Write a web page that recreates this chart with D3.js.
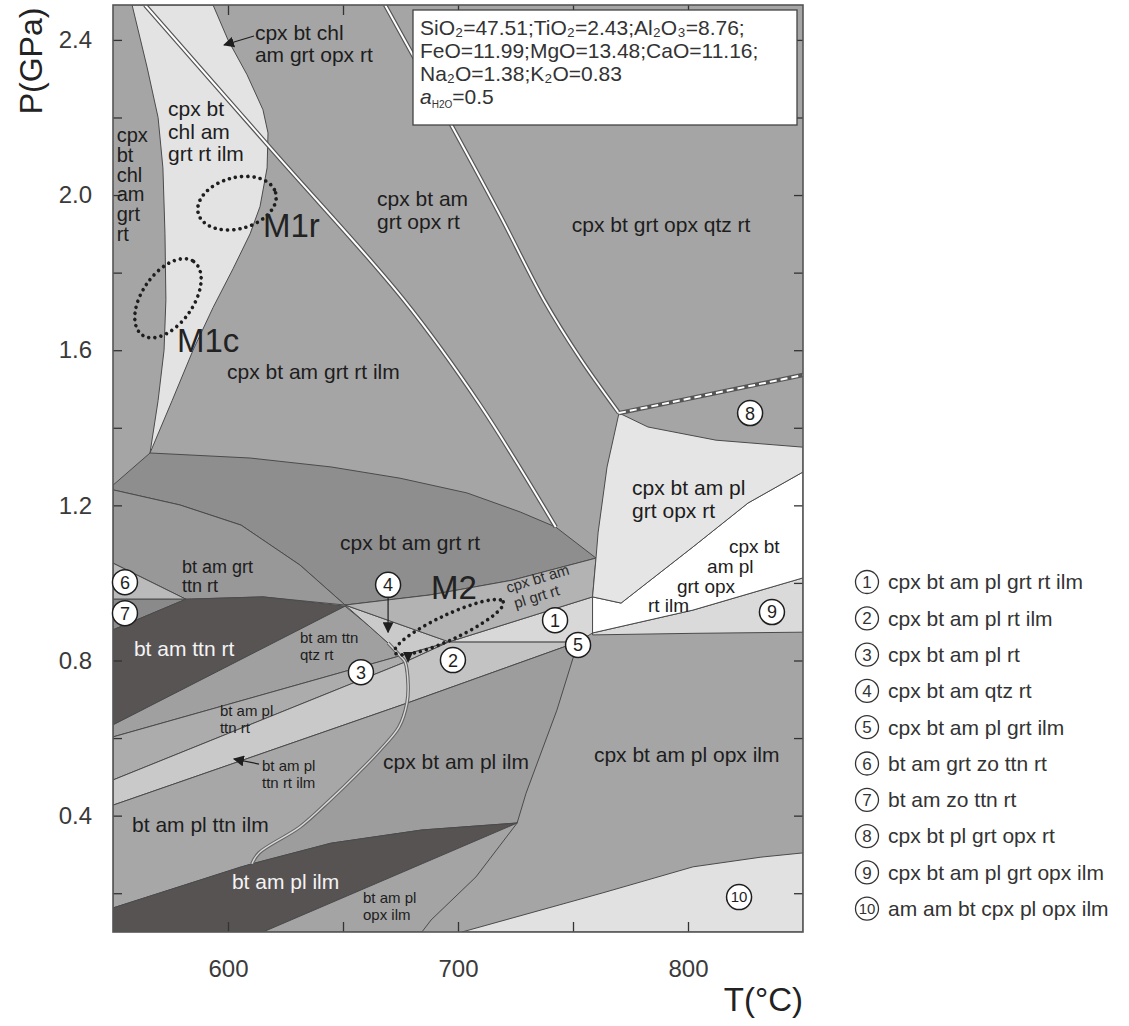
<!DOCTYPE html>
<html>
<head>
<meta charset="utf-8">
<script src="https://cdnjs.cloudflare.com/ajax/libs/d3/7.8.5/d3.min.js"></script>
<style>
  body { margin: 0; background: #fff; }
  svg { display: block; font-family: "Liberation Sans", Arial, sans-serif; }
</style>
</head>
<body>
<svg id="chart" width="1129" height="1026"></svg>
<script>
// ---- P–T pseudosection: T in °C, P in GPa ----

// axis ticks
const tTicks = [600, 650, 700, 750, 800];
const tTickLabels = [600, 700, 800];
const pTicks = [0.2, 0.4, 0.6, 0.8, 1.0, 1.2, 1.4, 1.6, 1.8, 2.0, 2.2, 2.4];
const pTickLabels = [0.4, 0.8, 1.2, 1.6, 2.0, 2.4];

// stability fields as [T, P] outlines
const fChlIlm = [[558.3,2.49],[564.8,2.33],[569.6,2.20],[571.7,2.07],[572.6,1.90],[573.0,1.73],[572.2,1.60],[569.6,1.47],[566.1,1.335],[575.7,1.47],[584.8,1.60],[593.5,1.71],[602.2,1.81],[609.6,1.90],[613.9,1.97],[617.0,2.07],[617.4,2.16],[615.2,2.22],[608.3,2.31],[600.0,2.40],[593.5,2.49]];
const fGrtRt = [[550,1.252],[566.1,1.335],[609.6,1.322],[644.8,1.299],[674.8,1.270],[703.9,1.232],[727.0,1.183],[742.5,1.144],[760.0,1.064],[723.5,1.007],[687.8,0.969],[650.9,0.943],[631.3,1.046],[605.7,1.149],[579.1,1.201],[550,1.240]];
const fGrtTtn = [[550,1.240],[579.1,1.201],[605.7,1.149],[631.3,1.046],[650.9,0.943],[615.2,0.964],[581.7,0.958],[550,1.051]];
const fZo6 = [[550,1.051],[581.7,0.958],[550,0.958]];
const fZo7 = [[550,0.958],[581.7,0.958],[550,0.879]];
const fTtnRt = [[550,0.879],[581.7,0.958],[615.2,0.964],[650.9,0.940],[550,0.634]];
const fTtnQtz = [[550,0.634],[650.9,0.940],[660.9,0.891],[669.6,0.845],[674.8,0.812],[550,0.603]];
const fPlTtnRt = [[550,0.603],[674.8,0.812],[677.0,0.796],[550,0.492]];
const fPlTtnRtIlm = [[550,0.492],[677.0,0.796],[678.3,0.737],[677.8,0.690],[550,0.427]];
const fPlTtnIlm = [[550,0.427],[677.8,0.690],[674.3,0.628],[666.1,0.569],[656.5,0.510],[644.3,0.440],[631.3,0.371],[613.5,0.304],[610.4,0.276],[550,0.162]];
const f3 = [[674.8,0.812],[696.1,0.848],[677.0,0.796]];
const f4 = [[650.9,0.943],[696.1,0.848],[674.8,0.812],[669.6,0.845],[660.9,0.891]];
const f2 = [[677.0,0.796],[696.1,0.848],[752.2,0.848],[677.8,0.690],[678.3,0.737]];
const f1 = [[696.1,0.848],[758.5,0.964],[758.5,0.871],[752.2,0.848]];
const fPlGrtRt = [[650.9,0.943],[687.8,0.969],[723.5,1.007],[760.0,1.064],[758.5,0.964],[696.1,0.848]];
const fCpxPlIlm = [[677.8,0.690],[752.2,0.848],[743.0,0.672],[729.6,0.458],[725.7,0.381],[684.3,0.363],[644.8,0.329],[610.4,0.276],[613.5,0.304],[631.3,0.371],[644.3,0.440],[656.5,0.510],[666.1,0.569],[674.3,0.628]];
const fPlIlm = [[550,0.162],[605.7,0.268],[644.8,0.329],[684.3,0.363],[725.7,0.381],[615.2,0.1],[550,0.1]];
const fPlOpxIlm = [[615.2,0.1],[725.7,0.381],[707.8,0.242],[688.3,0.131],[684.3,0.1]];
const f10 = [[701.7,0.1],[763.0,0.201],[802.2,0.268],[831.7,0.293],[850,0.304],[850,0.1]];
const f9 = [[758.5,0.871],[802.2,0.930],[850,1.013],[850,0.873],[802.2,0.870],[758.5,0.866]];
const fOpxRtIlm = [[758.5,0.964],[770.9,0.948],[802.2,1.093],[826.1,1.206],[850,1.286],[850,1.013],[802.2,0.930],[758.5,0.871]];
const fPlGrtOpxRt = [[770.0,1.438],[782.6,1.402],[812.2,1.368],[850,1.350],[850,1.286],[826.1,1.206],[802.2,1.093],[770.9,0.948],[758.5,0.964],[760.0,1.064],[760.9,1.129],[764.8,1.299]];

// reaction lines drawn as open double lines
const rxChlOut = [[563.9,2.49],[620.4,2.108],[676.5,1.729],[709.6,1.459],[742.5,1.144]];
const rxAmOut = [[668.3,2.49],[697.8,2.173],[718.3,1.948],[737.4,1.729],[753.0,1.580],[770.0,1.438]];
const rxQtz = [[770.0,1.438],[850,1.536]];
const rxTtn = [[669.6,0.845],[674.8,0.812],[677.0,0.796],[678.3,0.737],[677.8,0.690],[674.3,0.628],[666.1,0.569],[656.5,0.510],[644.3,0.440],[631.3,0.371],[613.5,0.304],[610.4,0.276]];

// field assemblages written inside the diagram: [lines, T, P]
const fieldLabels = [
  [["cpx bt chl","am grt opx rt"], 611.7, 2.42],
  [["cpx bt","chl am","grt rt ilm"], 573.9, 2.222],
  [["cpx bt am","grt opx rt"], 664.8, 1.99],
  [["cpx bt grt opx qtz rt"], 749.5, 1.923],
  [["cpx bt am grt rt ilm"], 599.6, 1.544],
  [["cpx bt am grt rt"], 648.7, 1.105],
  [["cpx bt am pl","grt opx rt"], 775.7, 1.245],
  [["cpx bt am pl ilm"], 667.4, 0.538],
  [["cpx bt am pl opx ilm"], 759.1, 0.556],
  [["bt am pl ttn ilm"], 558.3, 0.376]
];
const stripLabel = [["cpx","bt","chl","am","grt","rt"], 551.6, 2.155];
const grtTtnLabel = [["bt am grt","ttn rt"], 580.0, 1.043];
const fieldLabelsSmall = [
  [["bt am ttn","qtz rt"], 631.3, 0.858],
  [["bt am pl","ttn rt"], 596.5, 0.670],
  [["bt am pl","ttn rt ilm"], 614.8, 0.528],
  [["bt am pl","opx ilm"], 658.7, 0.188]
];
const fieldLabelsWhite = [
  [["bt am ttn rt"], 559.1, 0.830],
  [["bt am pl ilm"], 601.7, 0.229]
];
// stepped label of the white field, one line each
const opxIlmLines = [["cpx bt", 817.8, 1.095], ["am pl", 808.3, 1.043], ["grt opx", 795.2, 0.992], ["rt ilm", 782.6, 0.941]];
// label written along the narrow band
const bandLabel = [["cpx bt am","pl grt rt"], 721.7, 0.974];

// numbered small fields
const circleNums = [1, 2, 3, 4, 5, 6, 7, 8, 9, 10];
const circleT = [742.2, 697.8, 657.8, 669.6, 752.2, 555.2, 555.2, 827.0, 836.5, 822.2];
const circleP = [0.904, 0.801, 0.770, 0.995, 0.840, 1.002, 0.922, 1.438, 0.925, 0.190];

// legend for numbered fields
const legendText = ["cpx bt am pl grt rt ilm","cpx bt am pl rt ilm","cpx bt am pl rt","cpx bt am qtz rt","cpx bt am pl grt ilm","bt am grt zo ttn rt","bt am zo ttn rt","cpx bt pl grt opx rt","cpx bt am pl grt opx ilm","am am bt cpx pl opx ilm"];

// metamorphic stages: centre (T, P), half-axes (°C, GPa)
const stages = [
  {name: "M1c", t: 573.9, p: 1.734, rt: 19.5, rp: 0.066},
  {name: "M1r", t: 603.9, p: 1.979, rt: 17.4, rp: 0.066},
  {name: "M2",  t: 696.1, p: 0.886, rt: 26.0, rp: 0.032}
];
const stageLabelT = [577.8, 615.2, 688.3];
const stageLabelP = [1.626, 1.923, 0.989];

// pointer arrows: [fromT, fromP, toT, toP]
const pointers = [
  [611.3, 2.410, 598.3, 2.387],
  [669.6, 0.961, 669.6, 0.873],
  [613.5, 0.533, 602.6, 0.546]
];
const pathHead = [678.3, 0.801];

// bulk composition
const bulk = [
  [["SiO₂=47.51;TiO₂=2.43;Al₂O₃=8.76;",""]],
  [["FeO=11.99;MgO=13.48;CaO=11.16;",""]],
  [["Na₂O=1.38;K₂O=0.83",""]],
  [["a","i"],["H2O","s"],["=0.5","r"]]
];

// ---------------- drawing ----------------
const svg = d3.select("#chart");
const x = d3.scaleLinear().domain([550, 850]).range([113, 803]);
const y = d3.scaleLinear().domain([0.1, 2.49]).range([932, 5]);
const X0 = x.range()[0], X1 = x.range()[1], Y0 = y.range()[1], Y1 = y.range()[0];

const fills = new Map([
  [fChlIlm, "#e3e3e3"], [fGrtRt, "#8e8e8e"], [fGrtTtn, "#989898"], [fZo6, "#bababa"],
  [fZo7, "#8a8a8a"], [fTtnRt, "#595454"], [fTtnQtz, "#a0a0a0"], [fPlTtnRt, "#acacac"],
  [fPlTtnRtIlm, "#c9c9c9"], [fPlTtnIlm, "#a7a7a7"], [f3, "#b9b9b9"], [f4, "#cacaca"],
  [f2, "#c3c3c3"], [f1, "#d8d8d8"], [fPlGrtRt, "#b3b3b3"], [fCpxPlIlm, "#9d9d9d"],
  [fPlIlm, "#575353"], [fPlOpxIlm, "#a4a4a4"], [f10, "#e1e1e1"], [f9, "#dadada"],
  [fOpxRtIlm, "#ffffff"], [fPlGrtOpxRt, "#e5e5e5"]
]);

svg.append("defs").append("clipPath").attr("id", "plotClip")
  .append("rect").attr("x", X0).attr("y", Y0).attr("width", X1 - X0).attr("height", Y1 - Y0);

const plot = svg.append("g").attr("clip-path", "url(#plotClip)");
plot.append("rect").attr("x", X0).attr("y", Y0).attr("width", X1 - X0).attr("height", Y1 - Y0)
  .attr("fill", "#a5a5a5");

const poly = d3.line().x(d => x(d[0])).y(d => y(d[1]));
const smooth = d3.line().x(d => x(d[0])).y(d => y(d[1])).curve(d3.curveCatmullRom.alpha(0.5));

for (const [pts, col] of fills) {
  plot.append("path").attr("d", poly(pts) + "Z")
    .attr("fill", col).attr("stroke", "#4b4b4b").attr("stroke-width", 1).attr("stroke-linejoin", "round");
}

// double reaction lines
function doubleLine(pts, dashed) {
  plot.append("path").attr("d", smooth(pts)).attr("fill", "none")
    .attr("stroke", "#555").attr("stroke-width", 4.4);
  plot.append("path").attr("d", smooth(pts)).attr("fill", "none")
    .attr("stroke", "#fff").attr("stroke-width", 2)
    .attr("stroke-dasharray", dashed ? "7 4" : null);
}
doubleLine(rxChlOut, false);
doubleLine(rxAmOut, false);
doubleLine(rxQtz, true);
plot.append("path").attr("d", smooth(rxTtn)).attr("fill", "none").attr("stroke", "#666").attr("stroke-width", 3.6);
plot.append("path").attr("d", smooth(rxTtn)).attr("fill", "none").attr("stroke", "#d9d9d9").attr("stroke-width", 1.4);

// ticks (inward on all four sides)
const tickCol = "#333";
function styleAxis(g) {
  g.select(".domain").remove();
  g.selectAll(".tick line").attr("stroke", tickCol).attr("stroke-width", 1.3);
  g.selectAll(".tick text").attr("fill", "#3a3a3a").attr("font-size", 24)
    .attr("font-family", '"Liberation Sans", Arial, sans-serif');
}
svg.append("g").attr("transform", `translate(0,${Y1})`)
  .call(d3.axisBottom(x).tickValues(tTicks).tickSize(-10).tickPadding(28)
    .tickFormat(d => tTickLabels.includes(d) ? d : ""))
  .call(styleAxis);
svg.append("g").attr("transform", `translate(0,${Y0})`)
  .call(d3.axisTop(x).tickValues(tTicks).tickSize(-10).tickFormat(""))
  .call(styleAxis);
svg.append("g").attr("transform", `translate(${X0},0)`)
  .call(d3.axisLeft(y).tickValues(pTicks).tickSize(-9).tickPadding(21)
    .tickFormat(d => pTickLabels.some(v => Math.abs(v - d) < 1e-6) ? d3.format(".1f")(d) : ""))
  .call(styleAxis);
svg.append("g").attr("transform", `translate(${X1},0)`)
  .call(d3.axisRight(y).tickValues(pTicks).tickSize(-9).tickFormat(""))
  .call(styleAxis);

// frame
svg.append("rect").attr("x", X0).attr("y", Y0).attr("width", X1 - X0).attr("height", Y1 - Y0)
  .attr("fill", "none").attr("stroke", "#555").attr("stroke-width", 1.6);

// axis titles
svg.append("text").attr("x", X1).attr("y", 1011).attr("text-anchor", "end")
  .attr("font-size", 33).attr("fill", "#222").text("T(°C)");
svg.append("text").attr("transform", "translate(42,61) rotate(-90)").attr("text-anchor", "middle")
  .attr("font-size", 32).attr("fill", "#222").text("P(GPa)");

// stage ellipses (dotted)
const stageAngle = {M1c: -55, M1r: -15, M2: -25};
stages.forEach((s, i) => {
  const cx = x(s.t), cy = y(s.p);
  const rx = x(s.t + s.rt) - cx, ry = cy - y(s.p + s.rp);
  plot.append("ellipse").attr("cx", cx).attr("cy", cy).attr("rx", rx).attr("ry", ry)
    .attr("transform", `rotate(${stageAngle[s.name]},${cx},${cy})`)
    .attr("fill", "none").attr("stroke", "#1e1e1e").attr("stroke-width", 3.6)
    .attr("stroke-linecap", "round").attr("stroke-dasharray", "0 6.2");
  svg.append("text").attr("x", x(stageLabelT[i])).attr("y", y(stageLabelP[i]))
    .attr("dy", "0.36em").attr("font-size", 33).attr("fill", "#222").text(s.name);
});

// field labels
function multiline(g, lines, t, p, size, gap, col) {
  const txt = g.append("text").attr("x", x(t)).attr("y", y(p))
    .attr("font-size", size).attr("fill", col);
  lines.forEach((s, k) => txt.append("tspan").attr("x", x(t)).attr("dy", k === 0 ? "0.35em" : gap).text(s));
  return txt;
}
const labels = svg.append("g");
fieldLabels.forEach(([ls, t, p]) => multiline(labels, ls, t, p, 21, 22.5, "#1d1d1d"));
multiline(labels, stripLabel[0], stripLabel[1], stripLabel[2], 20, 19.8, "#1d1d1d");
multiline(labels, grtTtnLabel[0], grtTtnLabel[1], grtTtnLabel[2], 18, 19.5, "#1d1d1d");
fieldLabelsSmall.forEach(([ls, t, p]) => multiline(labels, ls, t, p, 15, 16.5, "#1d1d1d"));
fieldLabelsWhite.forEach(([ls, t, p]) => multiline(labels, ls, t, p, 21, 22, "#f4f4f4"));
opxIlmLines.forEach(([s, t, p]) => labels.append("text").attr("x", x(t)).attr("y", y(p)).attr("dy", "0.35em")
  .attr("font-size", 19).attr("fill", "#1d1d1d").text(s));
{
  const [ls, t, p] = bandLabel;
  const g = labels.append("g").attr("transform", `translate(${x(t)},${y(p)}) rotate(-17)`);
  ls.forEach((s, k) => g.append("text").attr("x", k ? 3 : 0).attr("y", k * 17).attr("font-size", 15)
    .attr("fill", "#2a2a2a").text(s));
}

// pointer arrows
svg.append("defs").append("marker").attr("id", "head").attr("viewBox", "0 0 10 10")
  .attr("refX", 9).attr("refY", 5).attr("markerWidth", 11).attr("markerHeight", 11)
  .attr("markerUnits", "userSpaceOnUse").attr("orient", "auto")
  .append("path").attr("d", "M0,0 L10,5 L0,10 Z").attr("fill", "#1e1e1e");
pointers.forEach(([t0, p0, t1, p1]) => {
  svg.append("line").attr("x1", x(t0)).attr("y1", y(p0)).attr("x2", x(t1)).attr("y2", y(p1))
    .attr("stroke", "#1e1e1e").attr("stroke-width", 1.2).attr("marker-end", "url(#head)");
});
svg.append("path")
  .attr("d", `M${x(pathHead[0]) - 5},${y(pathHead[1]) - 8} L${x(pathHead[0]) + 5},${y(pathHead[1]) - 8} L${x(pathHead[0])},${y(pathHead[1]) + 3} Z`)
  .attr("fill", "#1e1e1e");

// numbered circles
circleNums.forEach((n, i) => {
  const g = svg.append("g").attr("transform", `translate(${x(circleT[i])},${y(circleP[i])})`);
  g.append("circle").attr("r", 12.5).attr("fill", "#fff").attr("stroke", "#1e1e1e").attr("stroke-width", 1.5);
  g.append("text").attr("text-anchor", "middle").attr("dy", "0.36em")
    .attr("font-size", n === 10 ? 15 : 18).attr("fill", "#1e1e1e").text(n);
});

// legend
const legend = svg.append("g");
legendText.forEach((s, i) => {
  const yy = 582 + i * 36.3;
  legend.append("circle").attr("cx", 867).attr("cy", yy).attr("r", 11.5)
    .attr("fill", "#fff").attr("stroke", "#333").attr("stroke-width", 1.3);
  legend.append("text").attr("x", 867).attr("y", yy).attr("dy", "0.36em").attr("text-anchor", "middle")
    .attr("font-size", circleNums[i] === 10 ? 15 : 17).attr("fill", "#333").text(circleNums[i]);
  legend.append("text").attr("x", 888).attr("y", yy).attr("dy", "0.35em")
    .attr("font-size", 21).attr("fill", "#333").text(s);
});

// bulk composition box
const box = svg.append("g");
box.append("rect").attr("x", X1 - 390).attr("y", Y0 + 5).attr("width", 384).attr("height", 115)
  .attr("fill", "#fff").attr("stroke", "#444").attr("stroke-width", 1.3);
bulk.forEach((parts, i) => {
  const t = box.append("text").attr("x", X1 - 383).attr("y", Y0 + 30 + i * 23)
    .attr("font-size", 21).attr("fill", "#333");
  parts.forEach(([s, kind]) => {
    const sp = t.append("tspan").text(s);
    if (kind === "s") sp.attr("font-size", 10).attr("dy", 4);
    if (kind === "r") sp.attr("dy", -4);
    if (kind === "i") sp.attr("font-style", "italic");
  });
});
</script>
</body>
</html>
